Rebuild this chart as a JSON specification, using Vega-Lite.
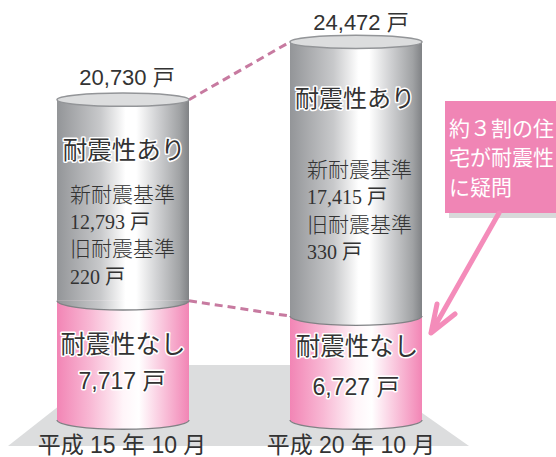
{"$schema":"https://vega.github.io/schema/vega-lite/v6.json","width":556,"height":457,"autosize":{"type":"none"},"padding":0,"background":"#ffffff","config":{"view":{"stroke":null},"text":{"font":"Liberation Sans, Noto Sans CJK JP","color":"#333333"},"style":{"halo":{"stroke":"#ffffff","strokeWidth":3,"strokeJoin":"round"}}},
"datasets":{
"cyl":[{"period":"平成 15 年 10 月","category":"耐震性なし","value":7717},{"period":"平成 15 年 10 月","category":"耐震性あり","value":13013},{"period":"平成 20 年 10 月","category":"耐震性なし","value":6727},{"period":"平成 20 年 10 月","category":"耐震性あり","value":17745}],
"links":[{"from":"平成 15 年 10 月","to":"平成 20 年 10 月","a":20730,"b":24472},{"from":"平成 15 年 10 月","to":"平成 20 年 10 月","a":7717,"b":6727}],
"labels":[
{"id":"t15","period":"平成 15 年 10 月","anchor":20730,"text":"20,730 戸"},
{"id":"a15","period":"平成 15 年 10 月","anchor":20730,"text":"耐震性あり"},
{"id":"s15","period":"平成 15 年 10 月","anchor":20730,"text":"新耐震基準"},
{"id":"sv15","period":"平成 15 年 10 月","anchor":20730,"text":"12,793 戸"},
{"id":"o15","period":"平成 15 年 10 月","anchor":20730,"text":"旧耐震基準"},
{"id":"ov15","period":"平成 15 年 10 月","anchor":20730,"text":"220 戸"},
{"id":"n15","period":"平成 15 年 10 月","anchor":7717,"text":"耐震性なし"},
{"id":"nv15","period":"平成 15 年 10 月","anchor":7717,"text":"7,717 戸"},
{"id":"x15","period":"平成 15 年 10 月","anchor":0,"text":"平成 15 年 10 月"},
{"id":"t20","period":"平成 20 年 10 月","anchor":24472,"text":"24,472 戸"},
{"id":"a20","period":"平成 20 年 10 月","anchor":24472,"text":"耐震性あり"},
{"id":"s20","period":"平成 20 年 10 月","anchor":24472,"text":"新耐震基準"},
{"id":"sv20","period":"平成 20 年 10 月","anchor":24472,"text":"17,415 戸"},
{"id":"o20","period":"平成 20 年 10 月","anchor":24472,"text":"旧耐震基準"},
{"id":"ov20","period":"平成 20 年 10 月","anchor":24472,"text":"330 戸"},
{"id":"n20","period":"平成 20 年 10 月","anchor":6727,"text":"耐震性なし"},
{"id":"nv20","period":"平成 20 年 10 月","anchor":6727,"text":"6,727 戸"},
{"id":"x20","period":"平成 20 年 10 月","anchor":0,"text":"平成 20 年 10 月"},
{"id":"note","period":"平成 20 年 10 月","anchor":0,"text":"約３割の住\n宅が耐震性\nに疑問"}
]},
"data":{"name":"labels"},
"encoding":{"x":{"field":"period","type":"nominal","scale":{"type":"point","padding":0,"domain":["平成 15 年 10 月","平成 20 年 10 月"],"range":[123,356]},"axis":null},"y":{"field":"anchor","type":"quantitative","scale":{"domain":[-2395,27184],"nice":false,"zero":false},"axis":null},"text":{"field":"text","type":"nominal"}},
"layer":[
{"transform":[{"filter":"datum.id=='x15'"}],"mark":{"type":"point","shape":"M-12 -55L231 -55L346 26L-115 26Z","size":4,"filled":true,"fill":"#dcddde","stroke":null,"opacity":1},"encoding":{"text":null}},
{"data":{"name":"links"},"mark":{"type":"rule","stroke":"#c77aa0","strokeWidth":3,"strokeDash":[8,5],"xOffset":66,"x2Offset":-66},"encoding":{"text":null,"x":{"field":"from","type":"nominal"},"x2":{"field":"to"},"y":{"field":"a","type":"quantitative"},"y2":{"field":"b"}}},
{"data":{"name":"cyl"},"transform":[{"stack":"value","groupby":["period"],"sort":[{"field":"category","order":"descending"}],"as":["y0","y1"]}],"encoding":{"text":null,"y":{"field":"y0","type":"quantitative"}},"layer":[
{"transform":[{"filter":"datum.category=='耐震性なし'"}],"mark":{"type":"bar","size":132,"fill":{"x1":0,"x2":1,"y1":0,"y2":0,"gradient":"linear","stops":[{"offset":0,"color":"#f285b5"},{"offset":0.25,"color":"#f8b8d4"},{"offset":0.5,"color":"#fff5f9"},{"offset":0.62,"color":"#ffffff"},{"offset":0.8,"color":"#f9c5dc"},{"offset":1,"color":"#f285b5"}]}},"encoding":{"y2":{"field":"y1"}}},
{"transform":[{"filter":"datum.category=='耐震性なし'"}],"mark":{"type":"point","shape":"M-1 0A1 0.14 0 0 0 1 0","size":17424,"filled":true,"opacity":1,"stroke":"#808285","strokeWidth":1.3,"fill":{"x1":0,"x2":1,"y1":0,"y2":0,"gradient":"linear","stops":[{"offset":0,"color":"#f285b5"},{"offset":0.25,"color":"#f8b8d4"},{"offset":0.5,"color":"#fff5f9"},{"offset":0.62,"color":"#ffffff"},{"offset":0.8,"color":"#f9c5dc"},{"offset":1,"color":"#f285b5"}]}}},
{"transform":[{"filter":"datum.category=='耐震性あり'"}],"mark":{"type":"bar","size":132,"fill":{"x1":0,"x2":1,"y1":0,"y2":0,"gradient":"linear","stops":[{"offset":0,"color":"#939598"},{"offset":0.33,"color":"#c8c9cb"},{"offset":0.52,"color":"#ffffff"},{"offset":0.6,"color":"#ffffff"},{"offset":0.76,"color":"#d0d1d3"},{"offset":0.93,"color":"#a0a2a4"},{"offset":1,"color":"#808285"}]}},"encoding":{"y2":{"field":"y1"}}},
{"transform":[{"filter":"datum.category=='耐震性あり'"}],"mark":{"type":"point","shape":"M-1 0A1 0.14 0 0 0 1 0","size":17424,"filled":true,"opacity":1,"stroke":"#808285","strokeWidth":1.3,"fill":{"x1":0,"x2":1,"y1":0,"y2":0,"gradient":"linear","stops":[{"offset":0,"color":"#939598"},{"offset":0.33,"color":"#c8c9cb"},{"offset":0.52,"color":"#ffffff"},{"offset":0.6,"color":"#ffffff"},{"offset":0.76,"color":"#d0d1d3"},{"offset":0.93,"color":"#a0a2a4"},{"offset":1,"color":"#808285"}]}}},
{"transform":[{"filter":"datum.category=='耐震性あり'"}],"mark":{"type":"point","shape":"M-1 0A1 0.1 0 1 1 1 0A1 0.1 0 1 1 -1 0Z","size":17424,"filled":true,"opacity":1,"fill":"#dcddde","stroke":"#939598","strokeWidth":1.5},"encoding":{"y":{"field":"y1","type":"quantitative"}}}
]},
{"transform":[{"filter":"datum.id=='note'"}],"mark":{"type":"point","shape":"M93 -315L204 -315L204 -202L93 -202Z","size":4,"filled":true,"fill":"#d8d9da","stroke":null,"opacity":1},"encoding":{"text":null}},
{"transform":[{"filter":"datum.id=='note'"}],"mark":{"type":"point","shape":"M89 -319L204 -319L204 -207L89 -207Z","size":4,"filled":true,"fill":"#f085b5","stroke":null,"opacity":1},"encoding":{"text":null}},
{"transform":[{"filter":"datum.id=='note'"}],"mark":{"type":"point","shape":"M143 -207L75 -87M81 -116L75 -87L99 -106","size":4,"filled":false,"fill":null,"stroke":"#f48cba","strokeWidth":5,"strokeCap":"round","strokeJoin":"round","opacity":1},"encoding":{"text":null}},
{"transform":[{"filter":"datum.id=='note'"}],"mark":{"type":"text","align":"left","dx":93,"dy":-290,"baseline":"middle","font":"Noto Sans CJK JP","fontSize":21,"color":"#ffffff","fill":"#ffffff","lineHeight":29.5,"lineBreak":"\n"}},
{"transform":[{"filter":"datum.id=='t15'"}],"mark":{"type":"text","dx":4,"dy":-22,"fontSize":22}},
{"transform":[{"filter":"datum.id=='t20'"}],"mark":{"type":"text","dx":5,"dy":-19,"fontSize":22}},
{"transform":[{"filter":"datum.id=='a15'"}],"mark":{"type":"text","style":"halo","dx":1,"dy":52,"fontSize":24.5}},
{"transform":[{"filter":"datum.id=='a15'"}],"mark":{"type":"text","dx":1,"dy":52,"fontSize":24.5}},
{"transform":[{"filter":"datum.id=='a20'"}],"mark":{"type":"text","style":"halo","dx":-1,"dy":58,"fontSize":24}},
{"transform":[{"filter":"datum.id=='a20'"}],"mark":{"type":"text","dx":-1,"dy":58,"fontSize":24}},
{"transform":[{"filter":"datum.id=='n15'"}],"mark":{"type":"text","style":"halo","dx":0,"dy":44,"fontSize":25}},
{"transform":[{"filter":"datum.id=='n15'"}],"mark":{"type":"text","dx":0,"dy":44,"fontSize":25}},
{"transform":[{"filter":"datum.id=='n20'"}],"mark":{"type":"text","style":"halo","dx":1,"dy":32,"fontSize":24.5}},
{"transform":[{"filter":"datum.id=='n20'"}],"mark":{"type":"text","dx":1,"dy":32,"fontSize":24.5}},
{"transform":[{"filter":"datum.id=='nv15'"}],"mark":{"type":"text","style":"halo","dx":-1,"dy":81,"fontSize":23}},
{"transform":[{"filter":"datum.id=='nv15'"}],"mark":{"type":"text","dx":-1,"dy":81,"fontSize":23}},
{"transform":[{"filter":"datum.id=='nv20'"}],"mark":{"type":"text","style":"halo","dx":0,"dy":72,"fontSize":23}},
{"transform":[{"filter":"datum.id=='nv20'"}],"mark":{"type":"text","dx":0,"dy":72,"fontSize":23}},
{"transform":[{"filter":"datum.id=='s15'"}],"mark":{"type":"text","align":"left","dx":-53,"dy":96,"fontSize":21,"font":"Noto Sans CJK JP","fontWeight":300}},
{"transform":[{"filter":"datum.id=='sv15'"}],"mark":{"type":"text","align":"left","dx":-53,"dy":123,"fontSize":20,"font":"Liberation Serif, Noto Sans CJK JP"}},
{"transform":[{"filter":"datum.id=='o15'"}],"mark":{"type":"text","align":"left","dx":-53,"dy":150,"fontSize":21,"font":"Noto Sans CJK JP","fontWeight":300}},
{"transform":[{"filter":"datum.id=='ov15'"}],"mark":{"type":"text","align":"left","dx":-53,"dy":178,"fontSize":20,"font":"Liberation Serif, Noto Sans CJK JP"}},
{"transform":[{"filter":"datum.id=='s20'"}],"mark":{"type":"text","align":"left","dx":-49,"dy":129,"fontSize":21,"font":"Noto Sans CJK JP","fontWeight":300}},
{"transform":[{"filter":"datum.id=='sv20'"}],"mark":{"type":"text","align":"left","dx":-49,"dy":156,"fontSize":20,"font":"Liberation Serif, Noto Sans CJK JP"}},
{"transform":[{"filter":"datum.id=='o20'"}],"mark":{"type":"text","align":"left","dx":-49,"dy":184,"fontSize":21,"font":"Noto Sans CJK JP","fontWeight":300}},
{"transform":[{"filter":"datum.id=='ov20'"}],"mark":{"type":"text","align":"left","dx":-49,"dy":211,"fontSize":20,"font":"Liberation Serif, Noto Sans CJK JP"}},
{"transform":[{"filter":"datum.id=='x15'"}],"mark":{"type":"text","dx":-1,"dy":26,"fontSize":23}},
{"transform":[{"filter":"datum.id=='x20'"}],"mark":{"type":"text","dx":-5,"dy":26,"fontSize":23}}
]}
